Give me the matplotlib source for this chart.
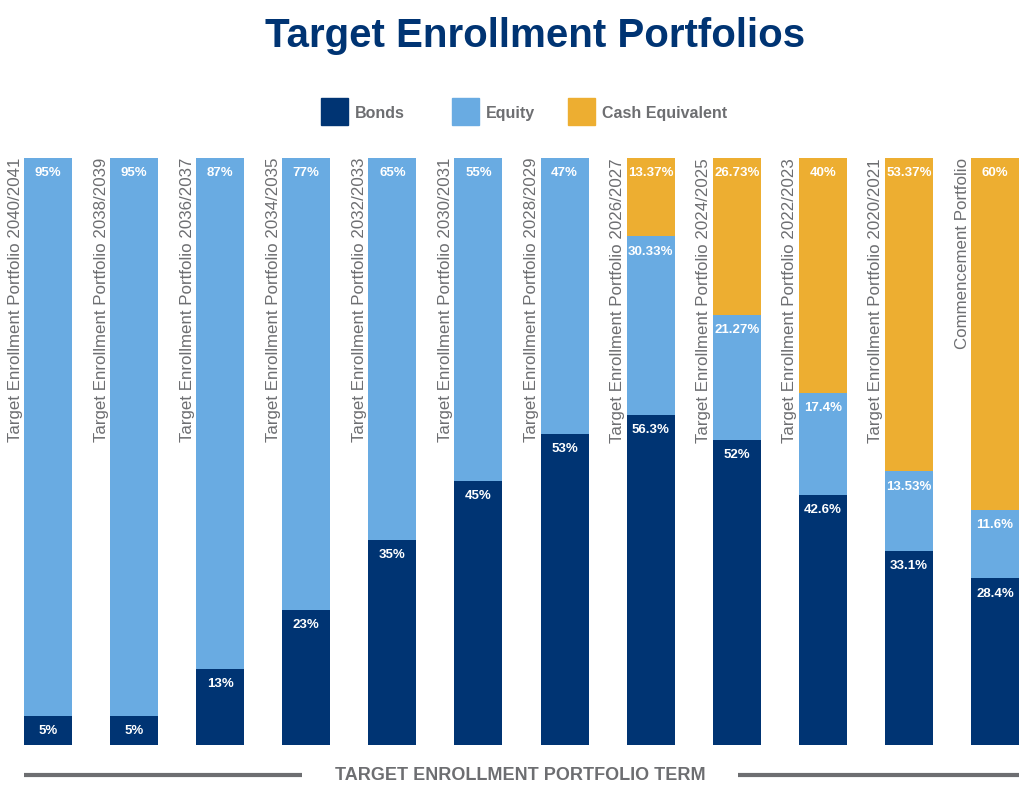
import matplotlib.pyplot as plt
from matplotlib.patches import Rectangle
from matplotlib.lines import Line2D

plt.rcParams['font.family'] = ['Liberation Sans', 'DejaVu Sans']

categories = ["Target Enrollment Portfolio 2040/2041",
              "Target Enrollment Portfolio 2038/2039",
              "Target Enrollment Portfolio 2036/2037",
              "Target Enrollment Portfolio 2034/2035",
              "Target Enrollment Portfolio 2032/2033",
              "Target Enrollment Portfolio 2030/2031",
              "Target Enrollment Portfolio 2028/2029",
              "Target Enrollment Portfolio 2026/2027",
              "Target Enrollment Portfolio 2024/2025",
              "Target Enrollment Portfolio 2022/2023",
              "Target Enrollment Portfolio 2020/2021",
              "Commencement Portfolio"]
bonds = [5, 5, 13, 23, 35, 45, 53, 56.3, 52, 42.6, 33.1, 28.4]
equity = [95, 95, 87, 77, 65, 55, 47, 30.33, 21.27, 17.4, 13.53, 11.6]
cash = [0, 0, 0, 0, 0, 0, 0, 13.37, 26.73, 40, 53.37, 60]
series_names = ["Bonds", "Equity", "Cash Equivalent"]

colors = ["#003473", "#69abe2", "#edae31"]
gray = "#6d6e71"
width = 0.557

fig = plt.figure(figsize=(10.35, 7.94), dpi=100)
ax = fig.add_axes([24 / 1035, 49 / 794, 995 / 1035, 587 / 794])

x = list(range(len(categories)))
bottom = [0] * len(categories)
for vals, color in zip([bonds, equity, cash], colors):
    ax.bar(x, vals, width, bottom=bottom, color=color, edgecolor='none')
    for i, v in enumerate(vals):
        if v > 0:
            top = bottom[i] + v
            ax.annotate(f"{v:g}%", (i, top), xytext=(0, -11),
                        textcoords='offset points', ha='center', va='center',
                        color='white', fontsize=9.5, fontweight='bold')
    bottom = [b + v for b, v in zip(bottom, vals)]

for i, name in enumerate(categories):
    ax.text(i - 0.383, 100, name, rotation=90, ha='center', va='top',
            color=gray, fontsize=12.2)

ax.set_xlim(-width / 2, len(categories) - 1 + width / 2)
ax.set_ylim(0, 100)
ax.axis('off')

# title
fig.text(535 / 1035, 1 - 36 / 794, "Target Enrollment Portfolios",
         ha='center', va='center', fontsize=29, fontweight='bold',
         color="#003473")

# legend
legend_x = [321, 452, 568]
for lx, name, color in zip(legend_x, series_names, colors):
    fig.patches.append(Rectangle((lx / 1035, 1 - 125 / 794), 27 / 1035,
                                 27 / 794, transform=fig.transFigure,
                                 color=color))
    fig.text((lx + 34) / 1035, 1 - 112 / 794, name, ha='left',
             va='center_baseline', fontsize=11.5, fontweight='bold',
             color=gray)

# bottom axis title with rules
fig.text(520 / 1035, 1 - 776 / 794, "TARGET ENROLLMENT PORTFOLIO TERM",
         ha='center', va='center', fontsize=13, fontweight='bold', color=gray)
for x0, x1 in [(24, 302), (738, 1019)]:
    fig.lines.append(Line2D([x0 / 1035, x1 / 1035], [1 - 775 / 794] * 2,
                            transform=fig.transFigure, color=gray, lw=3,
                            solid_capstyle='butt'))

fig.savefig("out.png", dpi=100)
